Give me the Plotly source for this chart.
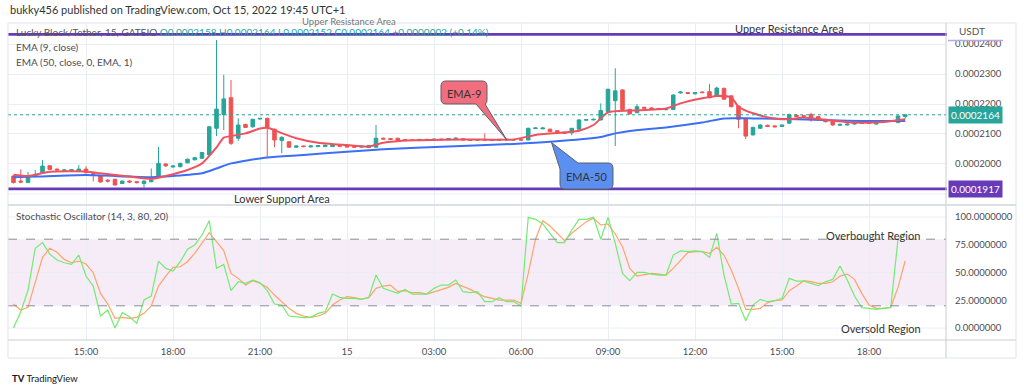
import plotly.graph_objects as go
import pandas as pd

# ---------------- data (prices in units of 1e-7 USDT) ----------------
PRICE_UNIT = 1e-7
start_time = "2022-10-14 12:30"

opens = [1960,1943,1938,1958,1971,1994,1983,1977,1979,1977,
         1983,1968,1960,1946,1949,1935,1943,1941,1935,1941,
         1956,2000,1990,1991,2004,2014,2019,2030,2119,2165,
         2221,2086,2132,2124,2150,2152,2116,2078,2074,2056,
         2060,2057,2058,2058,2058,2062,2060,2059,2056,2055,
         2056,2086,2085,2086,2081,2080,2078,2082,2079,2083,
         2081,2085,2084,2080,2079,2081,2080,2079,2082,2080,
         2081,2080,2118,2117,2116,2111,2106,2104,2116,2146,
         2147,2147,2175,2211,2247,2182,2171,2189,2187,2185,
         2181,2182,2237,2238,2234,2240,2241,2227,2252,2227,
         2193,2150,2097,2119,2129,2127,2125,2136,2163,2161,
         2165,2158,2149,2142,2129,2130,2133,2135,2138,2133,
         2140,2142,2138,2158]
highs = [1963,1982,1974,1980,2013,1996,1985,1982,1983,1997,
         1992,1972,1962,1950,1951,1945,1946,1942,1946,1985,
         2057,2004,1996,2004,2018,2024,2040,2126,2413,2297,
         2280,2152,2134,2151,2153,2155,2118,2092,2076,2062,
         2061,2062,2062,2064,2065,2063,2061,2060,2061,2063,
         2130,2088,2086,2087,2083,2082,2083,2084,2084,2085,
         2086,2088,2086,2082,2083,2102,2082,2083,2083,2082,
         2082,2121,2122,2121,2118,2112,2107,2120,2149,2149,
         2151,2202,2251,2319,2249,2184,2200,2191,2189,2187,
         2186,2232,2242,2240,2240,2242,2267,2258,2255,2230,
         2195,2152,2124,2132,2131,2129,2131,2168,2166,2163,
         2171,2160,2151,2144,2134,2135,2137,2139,2139,2143,
         2144,2146,2162,2164]
lows = [1935,1936,1937,1955,1968,1980,1977,1974,1977,1975,
        1969,1942,1938,1938,1928,1933,1937,1935,1921,1939,
        1955,1990,1988,1989,2002,2012,2017,2028,2093,2113,
        2063,2077,2120,2121,2148,2024,2056,2036,2054,2054,
        2056,2055,2056,2057,2057,2058,2056,2055,2055,2054,
        2055,2082,2080,2077,2078,2077,2077,2079,2078,2080,
        2080,2083,2079,2078,2078,2079,2078,2078,2079,2079,
        2078,2079,2117,2117,2107,2103,2100,2096,2115,2144,
        2145,2145,2172,2060,2180,2165,2169,2184,2182,2180,
        2179,2180,2235,2233,2232,2236,2219,2225,2214,2189,
        2119,2083,2095,2117,2123,2122,2124,2134,2156,2157,
        2141,2145,2139,2128,2127,2128,2131,2133,2134,2131,
        2138,2140,2136,2152]
closes = [1938,1940,1956,1962,1993,1982,1980,1980,1981,1983,
          1971,1965,1940,1943,1930,1943,1940,1938,1943,1946,
          2002,1994,1993,2002,2016,2021,2038,2124,2183,2217,
          2069,2130,2122,2149,2152,2122,2080,2089,2056,2060,
          2058,2060,2061,2063,2064,2059,2057,2056,2059,2062,
          2086,2083,2082,2078,2079,2078,2082,2080,2083,2081,
          2085,2086,2080,2079,2081,2080,2079,2082,2080,2081,
          2080,2119,2120,2120,2108,2104,2102,2119,2147,2148,
          2149,2178,2249,2244,2182,2167,2191,2186,2184,2182,
          2184,2230,2240,2235,2238,2238,2221,2253,2216,2191,
          2149,2093,2122,2130,2125,2124,2130,2165,2158,2159,
          2152,2147,2141,2130,2132,2133,2135,2137,2136,2141,
          2142,2144,2160,2164]

ema9_bars = [0,2,5,10,12,16,19,21,24,26,27,28,29,30,32,34,35,36,37,39,42,46,49,51,55,
             62,69,72,78,80,82,85,90,92,95,97,99,100,102,105,107,109,112,116,120,123]
ema9_vals = [1964,1960,1974,1975,1969,1958,1950,1960,1980,2002,2027,2055,2088,2093,2102,
             2118,2121,2113,2103,2086,2071,2063,2058,2071,2079,2082,2082,2097,2111,2130,
             2172,2178,2185,2202,2219,2227,2222,2191,2169,2152,2149,2155,2147,2138,2140,2149]
ema50_bars = [0,3,10,16,19,22,26,28,30,35,40,46,51,60,69,74,81,83,85,90,95,98,102,108,115,123]
ema50_vals = [1956,1958,1963,1958,1956,1960,1969,1985,2002,2022,2030,2041,2049,2058,2067,
              2074,2090,2102,2110,2122,2138,2152,2152,2149,2144,2143]

stoch_k = [0,14.7,34,71.8,76.9,66.6,61.2,58.8,57.3,65.7,
           46.8,37.8,10.8,16.2,0,13.8,10.2,4.2,25.2,28.8,
           60.3,53.7,51.3,59.7,70.9,74.8,83.8,96.7,53.7,57.3,
           33.6,41.7,40.2,43.2,40.8,33.6,21.6,20.7,10.8,10.2,
           9.3,9.6,13.2,14.7,30.6,27.6,26.7,26.7,25.8,27.6,
           47.7,35.7,33.6,31.2,34.8,30.6,30.6,30.6,35.7,38.7,
           38.7,43.2,32.7,31.8,32.7,23.7,23.7,27.3,23.7,23.7,
           19.8,99.7,97.9,93.7,85.3,76.9,76.9,88.3,97.9,97.9,
           99.7,79.9,99.7,76.3,49.2,42.6,50.1,50.1,48.6,47.7,
           47.7,65.7,69.4,68.8,69.4,68.8,63.6,85.3,47.7,21.6,
           22.2,6.6,20.7,25.8,23.7,24.6,26.7,44.7,42.3,42.3,
           40.2,38.1,41.7,43.8,55.8,43.2,28.8,18.3,17.7,16.8,
           17.7,18.6,79.9,85.9]
stoch_d = [21.6,16.2,18.6,40.2,63.6,71.8,68.2,61.8,58.8,60.3,
           57.6,49.8,31.2,21.6,8.7,9.6,8.7,9.6,13.2,19.8,
           37.8,46.8,54.6,55.2,59.7,67.3,76.3,85.9,77.8,69.7,
           49.2,44.7,38.7,42.6,40.2,36.6,29.7,23.7,17.7,13.2,
           10.8,9.6,10.8,13.2,20.7,25.2,28.2,27.3,26.1,27.3,
           35.7,37.8,38.7,32.7,33.6,31.8,31.8,30.6,32.7,34.8,
           36.6,40.2,37.8,34.8,31.2,28.2,26.7,25.2,25.2,25.2,
           22.2,49.2,80.0,96.7,91.9,85.3,78.7,85.3,90.7,95.8,
           98.8,92.8,93.7,84.7,73.3,53.7,46.8,47.7,49.2,48.6,
           47.7,53.7,61.2,67.9,68.8,68.8,67.3,72.7,65.7,52.2,
           35.7,16.8,16.8,17.7,22.8,24.6,25.2,33.6,37.8,42.6,
           41.7,40.2,40.2,41.7,46.8,48.6,43.8,31.2,20.7,17.7,
           17.7,18.6,36.6,60.6]

price_ticks = [2000, 2100, 2200, 2300, 2400]
price_grid_extra = [1900]
stoch_ticks = [0, 25, 50, 75, 100]
stoch_grid = [0, 50, 100]
time_tick_times = ["2022-10-14 15:00", "2022-10-14 18:00", "2022-10-14 21:00", "2022-10-15 00:00",
                   "2022-10-15 03:00", "2022-10-15 06:00", "2022-10-15 09:00", "2022-10-15 12:00",
                   "2022-10-15 15:00", "2022-10-15 18:00"]
time_tick_labels = ["15:00", "18:00", "21:00", "15", "03:00", "06:00", "09:00", "12:00", "15:00", "18:00"]

resistance_level = 2432
support_level = 1917
last_price = 2164
overbought, oversold = 80, 20

# ---------------- layout helpers ----------------
W, H = 1024, 391
def px(x): return x / W
def py(y): return 1 - y / H

FONT = "Lato, 'Open Sans', sans-serif"
GREEN = "#26a69a"
RED = "#ef5350"
PURPLE = "#673ab7"
GRID = "#eaeef4"
BORDER = "#e0e3eb"
TXT = "#4a4d57"

P = lambda v: v * PRICE_UNIT
times = pd.date_range(start_time, periods=len(opens), freq="15min")
t0 = times[0]
bar_minutes = 15
x_left = t0 - pd.Timedelta(minutes=bar_minutes * (5.5 / 7.25))
x_right = t0 + pd.Timedelta(minutes=bar_minutes * ((946 - 13.5) / 7.25))

fig = go.Figure()

fig.add_trace(go.Candlestick(
    x=times, open=[P(v) for v in opens], high=[P(v) for v in highs],
    low=[P(v) for v in lows], close=[P(v) for v in closes],
    increasing=dict(line=dict(color=GREEN, width=1), fillcolor=GREEN),
    decreasing=dict(line=dict(color=RED, width=1), fillcolor=RED),
    whiskerwidth=0, xaxis="x", yaxis="y", showlegend=False, hoverinfo="skip"))

fig.add_trace(go.Scatter(
    x=[times[i] for i in ema50_bars], y=[P(v) for v in ema50_vals], mode="lines",
    line=dict(color="#3b6ff5", width=2, shape="spline", smoothing=0.6),
    xaxis="x", yaxis="y", showlegend=False, hoverinfo="skip"))
fig.add_trace(go.Scatter(
    x=[times[i] for i in ema9_bars], y=[P(v) for v in ema9_vals], mode="lines",
    line=dict(color="#f0515f", width=2, shape="spline", smoothing=0.6),
    xaxis="x", yaxis="y", showlegend=False, hoverinfo="skip"))

fig.add_trace(go.Scatter(
    x=times, y=stoch_d, mode="lines", line=dict(color="#ffa366", width=1.2),
    xaxis="x2", yaxis="y2", showlegend=False, hoverinfo="skip"))
fig.add_trace(go.Scatter(
    x=times, y=stoch_k, mode="lines", line=dict(color="#70ec70", width=1.2),
    xaxis="x2", yaxis="y2", showlegend=False, hoverinfo="skip"))

shapes = []
# stochastic band + dashed levels + grid
shapes.append(dict(type="rect", xref="paper", yref="y2", x0=px(8), x1=px(946),
                   y0=oversold, y1=overbought, fillcolor="rgba(156,39,176,0.09)",
                   line=dict(width=0), layer="below"))
for g in stoch_grid:
    shapes.append(dict(type="line", xref="paper", yref="y2", x0=px(8), x1=px(946),
                       y0=g, y1=g, line=dict(color=GRID, width=1), layer="below"))
for g in price_grid_extra:
    shapes.append(dict(type="line", xref="paper", yref="y", x0=px(8), x1=px(946),
                       y0=P(g), y1=P(g), line=dict(color=GRID, width=1), layer="below"))
for lv in (overbought, oversold):
    shapes.append(dict(type="line", xref="paper", yref="y2", x0=px(8), x1=px(946),
                       y0=lv, y1=lv, line=dict(color="#8a8d96", width=1, dash="dash")))
# horizontal levels
for lv in (resistance_level, support_level):
    shapes.append(dict(type="line", xref="paper", yref="y", x0=px(8), x1=px(947),
                       y0=P(lv), y1=P(lv), line=dict(color=PURPLE, width=2.6)))
shapes.append(dict(type="line", xref="paper", yref="y", x0=px(8), x1=px(946),
                   y0=P(last_price), y1=P(last_price), line=dict(color=GREEN, width=1, dash="dot")))
# frame lines
shapes += [
    dict(type="rect", xref="paper", yref="paper", x0=px(8), x1=px(1016), y0=py(358), y1=py(23),
         line=dict(color=BORDER, width=1)),
    dict(type="line", xref="paper", yref="paper", x0=px(946), x1=px(946), y0=py(358), y1=py(23),
         line=dict(color="#c9ccd4", width=1)),
    dict(type="line", xref="paper", yref="paper", x0=px(8), x1=px(1016), y0=py(340), y1=py(340),
         line=dict(color="#c9ccd4", width=1)),
    dict(type="line", xref="paper", yref="paper", x0=px(8), x1=px(1016), y0=py(205), y1=py(205),
         line=dict(color="#d1d4dc", width=1.5)),
    dict(type="line", xref="paper", yref="paper", x0=px(948), x1=px(1003), y0=py(40.5), y1=py(40.5),
         line=dict(color="#b9a7e0", width=1.5)),
]

def path_from(points):
    out = []
    for cmd, pts in points:
        coords = " ".join(f"{px(a):.5f},{py(b):.5f}" for a, b in pts)
        out.append(f"{cmd}{coords}")
    return " ".join(out) + " Z"

r = 5
bx0, by0, bx1, by1 = 441, 81, 487, 104
ema9_path = path_from([
    ("M", [(bx0 + r, by0)]), ("L", [(bx1 - r, by0)]), ("Q", [(bx1, by0), (bx1, by0 + r)]),
    ("L", [(bx1, by1 - r)]), ("Q", [(bx1, by1), (bx1 - 2, by1)]),
    ("L", [(506.5, 139.5)]), ("L", [(476, by1)]),
    ("L", [(bx0 + r, by1)]), ("Q", [(bx0, by1), (bx0, by1 - r)]),
    ("L", [(bx0, by0 + r)]), ("Q", [(bx0, by0), (bx0 + r, by0)]),
])
cx0, cy0, cx1, cy1 = 560, 163, 613, 189
ema50_path = path_from([
    ("M", [(cx0, cy0 + 6)]), ("L", [(551.5, 142.5)]), ("L", [(578, cy0)]),
    ("L", [(cx1 - r, cy0)]), ("Q", [(cx1, cy0), (cx1, cy0 + r)]),
    ("L", [(cx1, cy1 - r)]), ("Q", [(cx1, cy1), (cx1 - r, cy1)]),
    ("L", [(cx0 + r, cy1)]), ("Q", [(cx0, cy1), (cx0, cy1 - r)]),
])
shapes.append(dict(type="path", xref="paper", yref="paper", path=ema9_path,
                   fillcolor="#f26d7d", line=dict(color="#5d606b", width=1)))
shapes.append(dict(type="path", xref="paper", yref="paper", path=ema50_path,
                   fillcolor="#5b8ff0", line=dict(color="#5d606b", width=1)))

def txt(x, y, text, size=10.5, color=TXT, xanchor="left", **kw):
    return dict(xref="paper", yref="paper", x=px(x), y=py(y), text=text, showarrow=False,
                xanchor=xanchor, yanchor="middle", font=dict(family=FONT, size=size, color=color), **kw)

annotations = [
    txt(8, 10, "bukky456 published on TradingView.com, Oct 15, 2022 19:45 UTC+1", size=11, color="#333"),
    txt(349, 21, "Upper Resistance Area", size=9.5, color="#777", xanchor="center"),
    txt(14, 32, "Lucky Block/Tether, 15, GATEIO "
        f"<span style='color:{GREEN}'>O0.0002158 H0.0002164 L0.0002152 C0.0002164 +0.0000002 (+0.14%)</span>",
        size=10, color="#555"),
    txt(14, 47, "EMA (9, close)", size=10),
    txt(14, 62, "EMA (50, close, 0, EMA, 1)", size=10),
    txt(789, 28, "Upper Resistance Area", size=11, color="#333", xanchor="center"),
    txt(282, 198, "Lower Support Area", size=11, color="#333", xanchor="center"),
    txt(14, 216, "Stochastic Oscillator (14, 3, 80, 20)", size=10),
    txt(873, 236, "Overbought Region", size=11, color="#333", xanchor="center"),
    txt(881, 328, "Oversold Region", size=11, color="#333", xanchor="center"),
    txt(464, 93, "EMA-9", size=11, color="#333", xanchor="center"),
    txt(586.5, 176.5, "EMA-50", size=11, color="#333", xanchor="center"),
    txt(957, 31, "USDT", size=10, color="#555"),
    txt(10, 378, "<b>TV</b> TradingView", size=9.5, color="#131722"),
    dict(xref="paper", yref="y", x=px(948), y=P(last_price), text="0.0002164", showarrow=False,
         xanchor="left", yanchor="middle", bgcolor=GREEN, borderpad=2,
         font=dict(family=FONT, size=10, color="white")),
    dict(xref="paper", yref="y", x=px(948), y=P(support_level), text="0.0001917", showarrow=False,
         xanchor="left", yanchor="middle", bgcolor=PURPLE, borderpad=2,
         font=dict(family=FONT, size=10, color="white")),
]

axis_font = dict(family=FONT, size=9.5, color=TXT)
fig.update_layout(
    width=W, height=H, margin=dict(l=0, r=0, t=0, b=0),
    paper_bgcolor="white", plot_bgcolor="white",
    showlegend=False, shapes=shapes, annotations=annotations,
    xaxis=dict(domain=[px(8), px(946)], anchor="y", type="date", range=[x_left, x_right],
               tickvals=time_tick_times, showticklabels=False, showgrid=True, gridcolor=GRID,
               zeroline=False, rangeslider=dict(visible=False), showline=False, ticks=""),
    yaxis=dict(domain=[py(205), py(23)], anchor="x", side="right",
               range=[P(1863.3), P(2470)], tickvals=[P(v) for v in price_ticks],
               ticktext=[f"{P(v):.7f}" for v in price_ticks], tickfont=axis_font,
               showgrid=True, gridcolor=GRID, zeroline=False, ticks="", ticklabelstandoff=8),
    xaxis2=dict(domain=[px(8), px(946)], anchor="y2", type="date", matches="x",
                tickvals=time_tick_times, ticktext=time_tick_labels, tickfont=axis_font,
                showgrid=True, gridcolor=GRID, zeroline=False, ticks="", ticklabelstandoff=4),
    yaxis2=dict(domain=[py(340), py(206)], anchor="x2", side="right", range=[-10.8, 109.9],
                tickvals=stoch_ticks, ticktext=[f"{v:.7f}" for v in stoch_ticks], tickfont=axis_font,
                showgrid=False, zeroline=False, ticks="", ticklabelstandoff=8),
)

fig.write_html("out.html", config={"displayModeBar": False},
               post_script="document.body.style.margin='0';document.body.style.overflow='hidden';")
